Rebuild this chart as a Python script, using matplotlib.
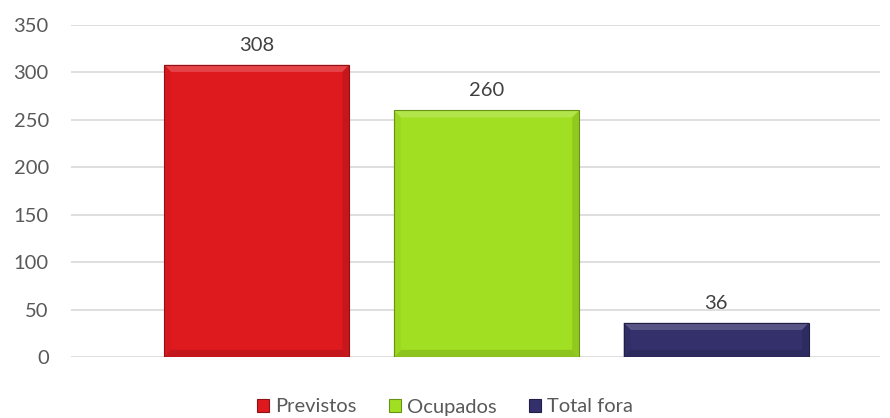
import matplotlib
matplotlib.use("Agg")
import matplotlib.pyplot as plt
from matplotlib.patches import Polygon, Rectangle
import matplotlib.colors as mcolors

categories = ["Previstos", "Ocupados", "Total fora"]
values = [308, 260, 36]
colors = ["#DE1A1F", "#A1DF22", "#33306B"]
yticks = [0, 50, 100, 150, 200, 250, 300, 350]

plt.rcParams['font.family'] = ['Lato', 'DejaVu Sans']

fig = plt.figure(figsize=(8.9, 4.18), dpi=100)
ax = fig.add_axes([71/890, 61/418, 809/890, 332/418])

x = list(range(len(categories)))
bars = ax.bar(x, values, width=0.806, color=colors, edgecolor='none', zorder=3)

ax.set_xlim(-0.808, 2.712)
ax.set_ylim(0, 350)
ax.set_yticks(yticks)
ax.set_xticks([])
ax.grid(axis='y', color='#D9D9D9', linewidth=1.2, zorder=0)
for s in ax.spines.values():
    s.set_visible(False)
ax.tick_params(axis='y', length=0, labelsize=14.5, labelcolor='#595959', pad=16)

def shade(c, f):
    r, g, b = mcolors.to_rgb(c)
    if f > 1:
        return (r + (1 - r) * (f - 1), g + (1 - g) * (f - 1), b + (1 - b) * (f - 1))
    return (r * f, g * f, b * f)

bx = 0.03
by = 7.5
for bar, c in zip(bars, colors):
    x0 = bar.get_x(); w = bar.get_width(); h = bar.get_height()
    x1 = x0 + w
    ax.add_patch(Polygon([(x0, h), (x1, h), (x1 - bx, h - by), (x0 + bx, h - by)],
                         closed=True, facecolor=shade(c, 1.18), edgecolor='none', zorder=4))
    ax.add_patch(Polygon([(x0, 0), (x1, 0), (x1 - bx, by), (x0 + bx, by)],
                         closed=True, facecolor=shade(c, 0.88), edgecolor='none', zorder=4))
    ax.add_patch(Polygon([(x0, 0), (x0 + bx, by), (x0 + bx, h - by), (x0, h)],
                         closed=True, facecolor=shade(c, 0.96), edgecolor='none', zorder=4))
    ax.add_patch(Polygon([(x1, 0), (x1 - bx, by), (x1 - bx, h - by), (x1, h)],
                         closed=True, facecolor=shade(c, 0.9), edgecolor='none', zorder=4))
    ax.add_patch(Rectangle((x0, 0), w, h, facecolor='none', edgecolor=shade(c, 0.65),
                           linewidth=0.8, zorder=5))
    ax.annotate(f"{h:g}", (bar.get_x() + w / 2, h), xytext=(0, 8),
                textcoords='offset points', ha='center', va='bottom',
                fontsize=14.5, color='#404040')

handles = [Rectangle((0, 0), 1, 1, facecolor=c, edgecolor=shade(c, 0.65), linewidth=0.8) for c in colors]
fig.legend(handles, categories, loc='center', bbox_to_anchor=(0.5, 1 - 407/418),
           ncol=3, frameon=False, fontsize=14.5, labelcolor='#595959',
           handlelength=0.6, handleheight=0.6, handletextpad=0.3, columnspacing=1.6)

fig.savefig("out.png", dpi=100)
